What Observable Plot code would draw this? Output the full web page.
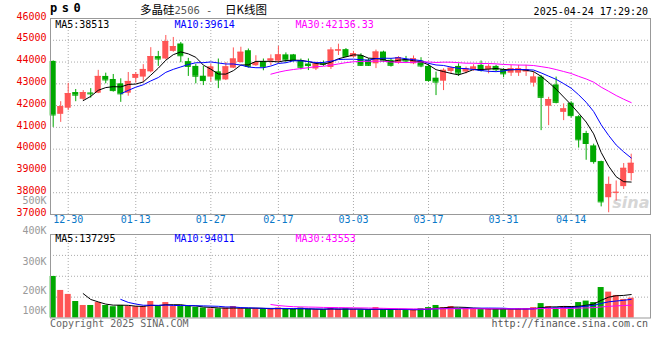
<!DOCTYPE html>
<html><head><meta charset="utf-8">
<script src="https://cdn.jsdelivr.net/npm/d3@7"></script>
<script src="https://cdn.jsdelivr.net/npm/@observablehq/plot@0.6"></script>
<style>
body{margin:0;background:#fff;}
#wrap{position:relative;width:660px;height:360px;overflow:hidden;font-family:"DejaVu Sans Mono",monospace;background:#fff;}
.abs{position:absolute;white-space:pre;}
</style></head><body>
<div id="wrap">
  <div id="main" class="abs" style="left:0;top:0"></div>
  <div id="vol" class="abs" style="left:0;top:190px"></div>
  <div class="abs" style="left:50px;top:1px;font:bold 12px 'DejaVu Sans Mono';letter-spacing:4.5px;color:#000;line-height:14px">ps0</div>
  <div class="abs" style="left:140px;top:2px;font-size:11.5px;line-height:14px;font-family:'Noto Sans CJK SC';color:#000"><span>多晶硅</span><span style="font:10.5px 'DejaVu Sans Mono';color:#555">2506 -  </span><span>日K线图</span></div>
  <div class="abs" style="right:12px;top:6px;font:10px 'DejaVu Sans Mono';line-height:12px;color:#000" id="stamp"></div>
  <div class="abs" style="left:50px;top:318px;font:10px 'DejaVu Sans Mono';line-height:12px;color:#666">Copyright 2025 SINA.COM</div>
  <div class="abs" style="right:12px;top:318px;font:10px 'DejaVu Sans Mono';line-height:12px;color:#555">http://finance.sina.com.cn</div>
</div>
<script>
const stamp = "2025-04-24 17:29:20";
const dates = ["12-26","12-27","12-30","12-31","01-02","01-03","01-06","01-07","01-08","01-09","01-10",
"01-13","01-14","01-15","01-16","01-17","01-20","01-21","01-22","01-23","01-24","01-27",
"02-05","02-06","02-07","02-10","02-11","02-12","02-13","02-14","02-17","02-18","02-19","02-20","02-21",
"02-24","02-25","02-26","02-27","02-28","03-03","03-04","03-05","03-06","03-07","03-10","03-11","03-12","03-13","03-14",
"03-17","03-18","03-19","03-20","03-21","03-24","03-25","03-26","03-27","03-28","03-31","04-01","04-02","04-03",
"04-07","04-08","04-09","04-10","04-11","04-14","04-15","04-16","04-17","04-18","04-21","04-22","04-23","04-24"];
const opens = [44030,41600,41880,42600,42290,42580,42570,43340,43200,43000,42570,
43250,43310,43550,44250,44140,44490,44830,44020,43800,43350,43310,
43550,43180,43720,43980,44520,43830,44020,44040,44040,44330,44330,44070,43910,
43680,43950,43750,44500,44570,44230,44300,44080,43920,44460,44080,43950,44100,43920,44050,
43800,43260,43120,43570,43800,43540,43650,43850,43650,43800,43650,43490,43490,43540,
43030,43310,41970,42950,41690,42110,41490,40720,40150,39430,37770,37990,38280,38880];
const highs = [44050,42180,43020,42740,42690,42780,43620,43490,43430,43230,43520,
43520,43880,44660,44490,45220,45130,44900,44170,43900,43800,43890,
44140,43980,44650,44680,44600,44290,44140,44330,44720,44420,44350,44140,44140,
44000,44050,44660,44820,44620,44490,44380,44150,44550,44500,44150,44250,44260,44280,44200,
43880,43540,43690,43770,43920,43770,43880,44050,43880,43850,43700,43850,43850,43850,
43540,43380,42380,43310,42080,42180,41540,40820,40230,39450,38720,38540,39340,39770];
const lows = [41000,41230,41770,42180,42230,42340,42550,43000,42620,42150,42430,
43030,43050,43500,43800,44100,44450,43970,43340,43000,42920,43080,
42780,43150,43700,43950,43720,43800,43600,43840,43940,43950,44000,43640,43610,
43610,43800,43660,44300,44230,44200,43800,43800,43700,44000,43770,43900,43950,43880,43740,
43080,42460,42690,43460,43340,43460,43570,43540,43460,43560,43280,43340,43340,43340,
42850,40850,41080,42080,41310,41430,40050,39490,39310,37350,37080,37620,38150,38540];
const closes = [41570,41950,42550,42480,42600,42540,43340,43180,42690,42540,43110,
43430,43660,44250,44140,44940,44710,44290,43800,43350,43150,43770,
43180,43780,44140,44450,43800,43980,43790,44140,44330,44100,44070,43760,43840,
43910,43900,44550,44560,44260,44380,43850,43850,44460,44050,43850,44200,44050,44150,43820,
43150,43080,43620,43720,43490,43690,43770,43620,43800,43650,43460,43690,43690,43650,
43310,42380,42280,42150,41850,41540,40430,40260,39430,37580,38380,38020,39120,39350];
// volume, in thousands of lots
const volumes = [199,132,113,79,60,60,74,60,54,60,55,
54,55,79,55,74,55,55,55,51,48,44,
44,48,55,44,44,44,44,44,48,41,41,48,41,
39,39,50,42,44,41,39,39,50,39,39,39,39,39,45,
50,60,50,55,44,44,44,42,42,42,45,39,45,45,
50,69,55,48,55,48,74,81,74,146,124,108,89,95];
const priceTicks = [46000,45000,44000,43000,42000,41000,40000,39000,38000,37000];
const priceGrid = [45000,44000,43000,42000,41000,40000,39000,38000];
const volTicks = [500000,400000,300000,200000,100000];
const volGrid = [300000,200000,100000];
const dateTicks = ["12-30","01-13","01-27","02-17","03-03","03-17","03-31","04-14"];
const priceMaLabels = ["MA5:38513","MA10:39614","MA30:42136.33"];
const volMaLabels = ["MA5:137295","MA10:94011","MA30:43553"];
const maColors = ["#000000","#0000ff","#ff00ff"];
const maK = [5,10,30];

document.getElementById("stamp").textContent = stamp;

const RED = "#ff5555", GREEN = "#00a800";
const FONT = "DejaVu Sans Mono";
const rows = dates.map((d,i)=>({i, date:d, open:opens[i], high:highs[i], low:lows[i], close:closes[i], vol:volumes[i]*1000, up: closes[i] >= opens[i]}));
const upRows = rows.filter(d=>d.up), downRows = rows.filter(d=>!d.up);
const tickIdx = dateTicks.map(t=>dates.indexOf(t));
const xs = {type:"linear", domain:[0, dates.length-1], range:[52.7, 630.7], axis:null};
const grid = {stroke:"#aaa", strokeDasharray:"1,2", strokeWidth:1};
const hw = 0.4;

function candles(data, color){
  return [
    Plot.ruleX(data, {x:"i", y1:"low", y2:"high", stroke:color, strokeWidth:1}),
    Plot.rect(data, {x1:d=>d.i-hw, x2:d=>d.i+hw, y1:"open", y2:"close", fill:color}),
    Plot.ruleY(data, {y:"close", x1:d=>d.i-hw, x2:d=>d.i+hw, stroke:color})
  ];
}
function maLines(field){
  return maK.map((k,j)=>Plot.lineY(rows, Plot.windowY({k, anchor:"end", reduce:"mean", strict:true}, {x:"i", y:field, stroke:maColors[j], strokeWidth:1})));
}
const maDx = [4.7, 124, 245];

const main = Plot.plot({
  width:660, height:228, marginLeft:50, marginRight:10, marginTop:18, marginBottom:14,
  x: xs,
  y: {domain:[37000,46000], axis:null},
  style:{background:"transparent", fontFamily:FONT, fontSize:"10px", overflow:"visible"},
  marks:[
    Plot.ruleY(priceGrid, {y:d=>d, ...grid}),
    Plot.ruleX(tickIdx, {x:d=>d, ...grid}),
    Plot.text(["sina"], {text:d=>d, frameAnchor:"bottom-right", dx:-1, dy:-7, fill:"#d6d6d6", fontSize:16, fontWeight:"bold", fontStyle:"italic", fontFamily:"DejaVu Sans"}),
    ...candles(upRows, RED),
    ...candles(downRows, GREEN),
    ...maLines("close"),
    Plot.frame({stroke:"#999"}),
    Plot.text(priceTicks, {y:d=>d, text:d=>String(d), frameAnchor:"left", dx:-4, dy:-2, textAnchor:"end", fill:"#ee0000", fontFamily:FONT, fontSize:10}),
    Plot.text(dateTicks, {x:d=>dates.indexOf(d), text:d=>d, frameAnchor:"bottom", dy:8, fill:"#0a78c8", fontFamily:FONT, fontSize:10}),
    ...priceMaLabels.map((t,j)=>Plot.text([t], {text:d=>d, frameAnchor:"top-left", dx:maDx[j], dy:2.5, textAnchor:"start", fill:maColors[j], fontFamily:FONT, fontSize:10}))
  ]
});
document.getElementById("main").appendChild(main);

const volDy = [-13, -3.5, 6, 14.5, 14];
const vol = Plot.plot({
  width:660, height:170, marginLeft:50, marginRight:10, marginTop:44, marginBottom:42.5,
  x: xs,
  y: {domain:[0,400000], axis:null},
  style:{background:"transparent", fontFamily:FONT, fontSize:"10px", overflow:"visible"},
  marks:[
    Plot.ruleY(volGrid, {y:d=>d, ...grid}),
    Plot.ruleX(tickIdx, {x:d=>d, ...grid}),
    Plot.rect(upRows, {x1:d=>d.i-hw, x2:d=>d.i+hw, y1:0, y2:"vol", fill:RED}),
    Plot.rect(downRows, {x1:d=>d.i-hw, x2:d=>d.i+hw, y1:0, y2:"vol", fill:GREEN}),
    ...maLines("vol"),
    Plot.frame({stroke:"#999"}),
    ...volTicks.map((v,j)=>Plot.text([v], {y:d=>d, text:d=>(d/1000)+"K", frameAnchor:"left", dx:-4, dy:volDy[j], textAnchor:"end", fill:"#999", fontFamily:FONT, fontSize:10})),
    ...volMaLabels.map((t,j)=>Plot.text([t], {text:d=>d, frameAnchor:"top-left", dx:maDx[j], dy:0.8, textAnchor:"start", fill:maColors[j], fontFamily:FONT, fontSize:10}))
  ]
});
document.getElementById("vol").appendChild(vol);
</script>
</body></html>
